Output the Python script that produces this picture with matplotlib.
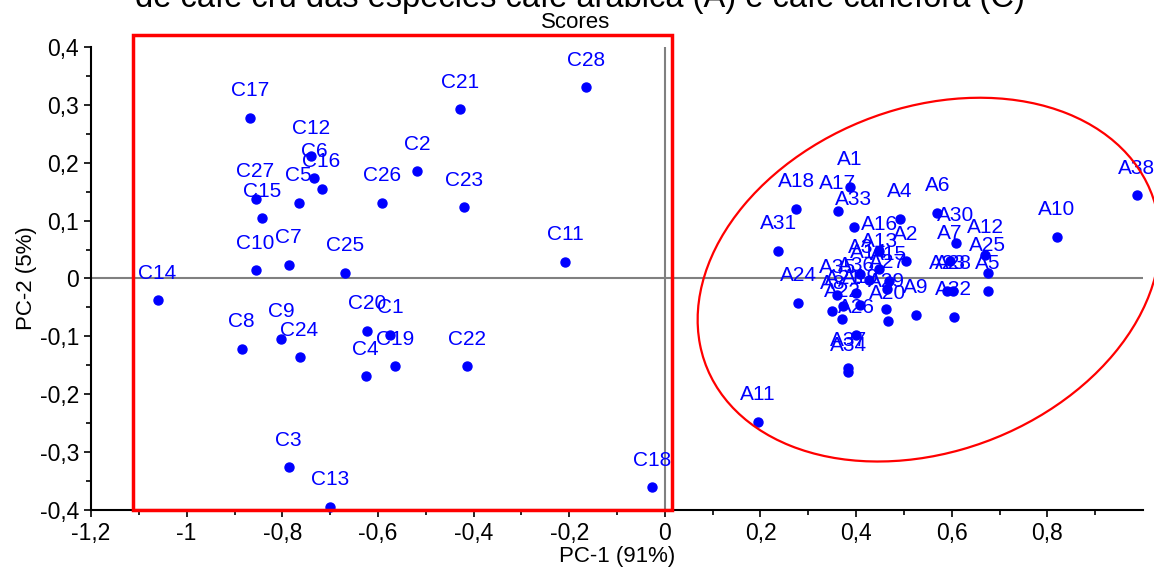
import matplotlib.pyplot as plt
from matplotlib.patches import Ellipse, Rectangle
from matplotlib.ticker import MultipleLocator, FixedLocator, FuncFormatter

plt.rcParams['font.family'] = ['Liberation Sans', 'DejaVu Sans']

# scores das amostras canéfora (C)
c_nomes = ['C%d' % i for i in range(1, 29)]
c_pc1 = [-0.574, -0.518, -0.787, -0.626, -0.766, -0.733, -0.787, -0.885, -0.802, -0.856,
         -0.209, -0.739, -0.701, -1.061, -0.843, -0.718, -0.868, -0.027, -0.564, -0.622,
         -0.428, -0.413, -0.420, -0.764, -0.668, -0.591, -0.856, -0.165]
c_pc2 = [-0.097, 0.185, -0.326, -0.169, 0.131, 0.173, 0.024, -0.121, -0.104, 0.014,
         0.029, 0.212, -0.394, -0.038, 0.104, 0.155, 0.278, -0.361, -0.152, -0.090,
         0.292, -0.152, 0.123, -0.136, 0.010, 0.131, 0.138, 0.330]

# scores das amostras arábica (A)
a_nomes = ['A%d' % i for i in range(1, 39)]
a_pc1 = [0.387, 0.504, 0.409, 0.491, 0.675, 0.570, 0.596, 0.350, 0.525, 0.820,
         0.195, 0.670, 0.448, 0.426, 0.468, 0.448, 0.362, 0.275, 0.409, 0.466,
         0.373, 0.371, 0.590, 0.279, 0.675, 0.400, 0.465, 0.603, 0.463, 0.608,
         0.237, 0.604, 0.395, 0.384, 0.361, 0.400, 0.384, 0.987]
a_pc2 = [0.158, 0.030, 0.007, 0.103, -0.021, 0.113, 0.031, -0.056, -0.063, 0.072,
         -0.248, 0.041, 0.017, -0.002, -0.005, 0.047, 0.117, 0.120, -0.045, -0.073,
         -0.047, -0.070, -0.021, -0.042, 0.010, -0.097, -0.019, -0.021, -0.052, 0.062,
         0.048, -0.066, 0.089, -0.162, -0.028, -0.025, -0.154, 0.144]

x_ticks = [-1.2, -1.0, -0.8, -0.6, -0.4, -0.2, 0.0, 0.2, 0.4, 0.6, 0.8]
y_ticks = [-0.4, -0.3, -0.2, -0.1, 0.0, 0.1, 0.2, 0.3, 0.4]


def virgula(v, pos):
    s = ('%.1f' % v).rstrip('0').rstrip('.')
    if s in ('-0', ''):
        s = '0'
    return s.replace('.', ',')


fig = plt.figure(figsize=(11.54, 5.70), dpi=100)
ax = fig.add_axes([0.0789, 0.1053, 0.9116, 0.8123])

ax.axhline(0, color='#808080', linewidth=1.5, zorder=1)
ax.axvline(0, color='#808080', linewidth=1.5, zorder=1)

ax.scatter(c_pc1, c_pc2, s=42, color='#0000ff', zorder=3, clip_on=False)
ax.scatter(a_pc1, a_pc2, s=42, color='#0000ff', zorder=3, clip_on=False)
for nome, x, y in zip(c_nomes + a_nomes, c_pc1 + a_pc1, c_pc2 + a_pc2):
    ax.annotate(nome, (x, y), xytext=(0, 19.5), textcoords='offset points',
                ha='center', va='center', color='#0000ff', fontsize=15)

# grupos
ax.add_patch(Rectangle((-1.113, -0.400), 1.128, 0.821, fill=False,
                       edgecolor='#ff0000', linewidth=2.5, clip_on=False, zorder=4))
ax.add_patch(Ellipse((0.552, -0.002), 0.983, 0.603, angle=13.2, fill=False,
                     edgecolor='#ff0000', linewidth=1.6, clip_on=False, zorder=4))

ax.set_xlim(-1.2, 1.0)
ax.set_ylim(-0.4, 0.4)
ax.xaxis.set_major_locator(FixedLocator(x_ticks))
ax.xaxis.set_minor_locator(FixedLocator([-1.1, -0.9, -0.7, -0.5, -0.3, -0.1,
                                         0.1, 0.3, 0.5, 0.7, 0.9]))
ax.yaxis.set_major_locator(FixedLocator(y_ticks))
ax.yaxis.set_minor_locator(MultipleLocator(0.05))
ax.xaxis.set_major_formatter(FuncFormatter(virgula))
ax.yaxis.set_major_formatter(FuncFormatter(virgula))
ax.tick_params(which='major', direction='out', length=5, width=1.2, labelsize=16.5)
ax.tick_params(which='minor', direction='out', length=3.5, width=1.2)

for lado in ('top', 'right'):
    ax.spines[lado].set_visible(False)
for lado in ('left', 'bottom'):
    ax.spines[lado].set_linewidth(1.5)

ax.set_xlabel('PC-1 (91%)', fontsize=16, labelpad=1)
ax.set_ylabel('PC-2 (5%)', fontsize=16, labelpad=2)

fig.text(576 / 1154, 1 - 22 / 570, 'Scores', ha='center', va='center', fontsize=16)
fig.text(580 / 1154, 1 - 7 / 570,
         'de café cru das espécies café arábica (A) e café canéfora (C)',
         ha='center', va='baseline', fontsize=23.5)

fig.savefig('out.png', dpi=100)
